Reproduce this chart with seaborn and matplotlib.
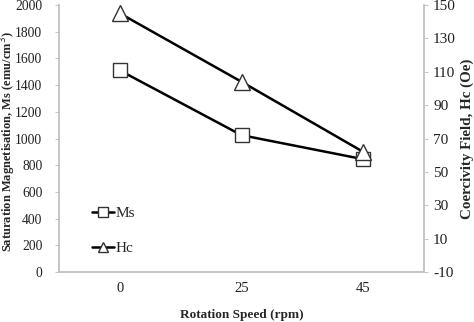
import numpy as np
import pandas as pd
import matplotlib
matplotlib.use("Agg")
import matplotlib.pyplot as plt
import seaborn as sns
from matplotlib.lines import Line2D

speeds = ["0", "25", "45"]
ms_values = [1510, 1025, 845]
hc_values = [145, 104, 62]

sns.set_style("white")
plt.rcParams['font.family'] = ['Liberation Serif', 'DejaVu Serif']
plt.rcParams['axes.unicode_minus'] = False

fig = plt.figure(figsize=(4.74, 3.22), dpi=100)
ax = fig.add_axes([59/474, 1-272/322, 365/474, 267/322])
ax2 = ax.twinx()

xpos = np.arange(len(speeds))
df = pd.DataFrame({"x": xpos, "Ms": ms_values, "Hc": hc_values})

sns.lineplot(data=df, x="x", y="Ms", ax=ax, color="black", lw=1.8,
             marker="s", markersize=10, markerfacecolor="white",
             markeredgecolor="#333333", markeredgewidth=1.0)
sns.lineplot(data=df, x="x", y="Hc", ax=ax2, color="black", lw=1.8,
             marker="^", markersize=11, markerfacecolor="white",
             markeredgecolor="#333333", markeredgewidth=1.0)

ax.set_xlim(-0.5, 2.5)
ax.set_ylim(0, 2000)
ax.set_yticks(np.arange(0, 2001, 200))
ax2.set_ylim(-10, 150)
ax2.set_yticks(np.arange(-10, 151, 20))
ax.set_xticks(xpos)
ax.set_xticklabels(speeds)

for a in (ax, ax2):
    for s in a.spines.values():
        s.set_visible(False)
    a.tick_params(labelsize=11, colors="#222222", length=3, width=0.6)
ax.spines['left'].set_visible(True)
ax.spines['bottom'].set_visible(True)
ax2.spines['right'].set_visible(True)
for s in (ax.spines['left'], ax.spines['bottom'], ax2.spines['right']):
    s.set_color("#bbbbbb")
    s.set_linewidth(1.2)
ax.tick_params(axis="both", color="#bbbbbb", labelcolor="#222222")
ax.tick_params(axis="y", labelsize=9.8, pad=9)
ax2.tick_params(axis="y", color="#bbbbbb", labelcolor="#222222")
ax.tick_params(axis="x", pad=7, length=0, labelsize=10.5)

ax.set_xlabel("Rotation Speed (rpm)", fontsize=9.5, fontweight="bold", labelpad=10)
ax.set_ylabel("Saturation Magnetisation, Ms (emu/cm$^3$)", fontsize=9.0,
              fontweight="bold")
ax.yaxis.set_label_coords(-0.113, 0.49)
ax2.set_ylabel("Coercivity Field, Hc (Oe)", fontsize=10.8, fontweight="bold", labelpad=3)

handles = [
    Line2D([], [], color="black", lw=1.8, marker="s", markersize=6.5,
           markerfacecolor="white", markeredgecolor="#333333"),
    Line2D([], [], color="black", lw=1.8, marker="^", markersize=6.5,
           markerfacecolor="white", markeredgecolor="#333333"),
]
ax.legend(handles, ["Ms", "Hc"], loc="lower left", bbox_to_anchor=(0.054, 0.012),
          frameon=False, fontsize=11, handlelength=1.4, handletextpad=0.1,
          labelspacing=1.4)

fig.savefig("out.png", dpi=100)
